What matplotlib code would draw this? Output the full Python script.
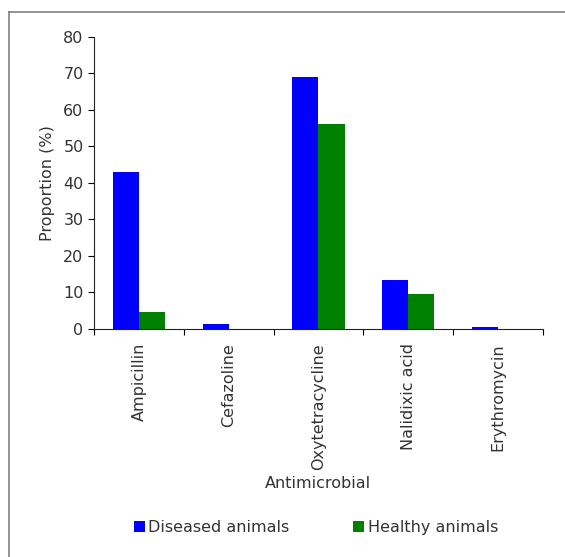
import matplotlib
matplotlib.use("Agg")
import matplotlib.pyplot as plt
from matplotlib.lines import Line2D
import numpy as np

drugs = ["Ampicillin", "Cefazoline", "Oxytetracycline", "Nalidixic acid", "Erythromycin"]
diseased = [43.0, 1.4, 69.0, 13.5, 0.6]
healthy = [4.7, 0.0, 56.1, 9.6, 0.0]
yticks = [0, 10, 20, 30, 40, 50, 60, 70, 80]

plt.rcParams['font.family'] = ['DejaVu Sans']
text_color = '#333333'
fs = 11.5

fig = plt.figure(figsize=(5.65, 5.57), dpi=100)
ax = fig.add_axes([0.1664, 0.4093, 0.7946, 0.5247])

x = np.arange(len(drugs))
w = 0.29
ax.bar(x - w / 2, diseased, w, color='#0000ff', label='Diseased animals')
ax.bar(x + w / 2, healthy, w, color='#008000', label='Healthy animals')

ax.set_xlim(-0.5, len(drugs) - 0.5)
ax.set_ylim(0, 80)
ax.set_yticks(yticks)
ax.set_xticks(np.arange(len(drugs) + 1) - 0.5)
ax.set_xticklabels([])
ax.set_xticks(x, minor=True)
ax.set_xticklabels(drugs, minor=True, rotation=90, fontsize=fs, color=text_color)
ax.tick_params(axis='x', which='minor', length=0, pad=10)
ax.tick_params(axis='x', which='major', length=4, direction='out')
ax.tick_params(axis='y', labelsize=fs, labelcolor=text_color, length=4)

for s in ['top', 'right']:
    ax.spines[s].set_visible(False)
for s in ['left', 'bottom']:
    ax.spines[s].set_color('#222222')

ax.set_ylabel("Proportion (%)", fontsize=fs, color=text_color, labelpad=6)
fig.text(0.563, 0.132, "Antimicrobial", ha='center', va='center', fontsize=fs, color=text_color)

fig.legend(loc='center', bbox_to_anchor=(0.559, 0.053), ncol=2, frameon=False,
           fontsize=fs, handlelength=0.7, handleheight=0.7, handletextpad=0.2,
           columnspacing=4.0, labelcolor=text_color)

# frame around the figure (only left and top visible in the original crop)
fig.add_artist(Line2D([9 / 565, 9 / 565], [0, 1 - 12 / 557], color='#808080', lw=1.2))
fig.add_artist(Line2D([9 / 565, 1], [1 - 12 / 557, 1 - 12 / 557], color='#808080', lw=1.2))

fig.savefig("out.png", dpi=100)
